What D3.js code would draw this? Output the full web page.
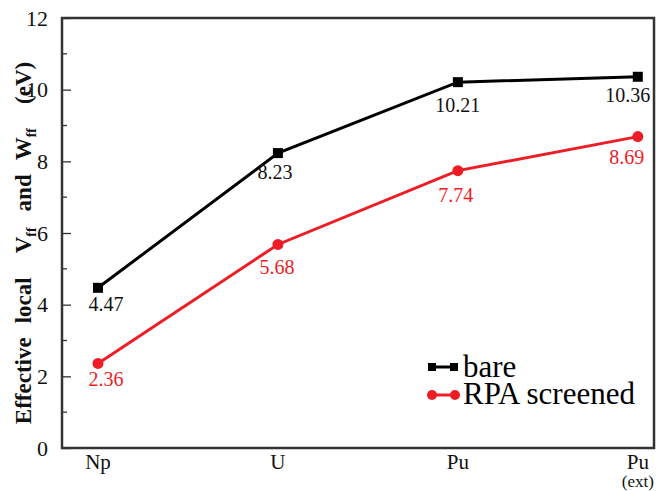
<!DOCTYPE html>
<html>
<head>
<meta charset="utf-8">
<script src="https://cdn.jsdelivr.net/npm/d3@7"></script>
<style>
body { margin: 0; background: #fff; }
</style>
</head>
<body>
<script>
// data
var categories = ["Np", "U", "Pu", "Pu"];
var subLabels = ["", "", "", "(ext)"];
var bare = [4.47, 8.23, 10.21, 10.36];
var rpa = [2.36, 5.68, 7.74, 8.69];
var yTicks = [0, 2, 4, 6, 8, 10, 12];

// label offsets (dx, dy) relative to point
var bareOff = [[8, 23], [-3, 26], [0, 30], [-10, 25]];
var rpaOff = [[8, 23], [-1, 30], [-2, 31], [-11, 27]];

var width = 665, height = 491;
var svg = d3.select("body").append("svg")
    .attr("width", width)
    .attr("height", height);

var x = d3.scaleLinear().domain([-0.2, 3.09]).range([62, 654]);
var y = d3.scaleLinear().domain([0, 12]).range([448, 18]);

// y ticks (inward)
var yAxis = d3.axisLeft(y).tickValues(yTicks).tickSize(-9).tickPadding(14)
    .tickFormat(d3.format("d"));
var gy = svg.append("g").attr("transform", "translate(62,0)").call(yAxis);
gy.select(".domain").remove();
gy.selectAll("line").attr("stroke", "#333").attr("stroke-width", 1.3);
gy.selectAll("text").attr("font-size", 22).attr("fill", "#111");

var minor = d3.range(1, 12, 2);
svg.append("g").selectAll("line").data(minor).enter().append("line")
    .attr("x1", 62).attr("x2", 67)
    .attr("y1", function (d) { return y(d); })
    .attr("y2", function (d) { return y(d); })
    .attr("stroke", "#333").attr("stroke-width", 1.3);

// frame
svg.append("rect")
    .attr("x", 62).attr("y", 18)
    .attr("width", 654 - 62).attr("height", 448 - 18)
    .attr("fill", "none").attr("stroke", "#333").attr("stroke-width", 2.5);

// x labels
svg.append("g").selectAll("text").data(categories).enter().append("text")
    .attr("x", function (d, i) { return x(i); })
    .attr("y", 469)
    .attr("text-anchor", "middle")
    .attr("font-size", 21)
    .attr("fill", "#111")
    .text(function (d) { return d; });
svg.append("g").selectAll("text").data(subLabels).enter().append("text")
    .attr("x", function (d, i) { return x(i); })
    .attr("y", 487)
    .attr("text-anchor", "middle")
    .attr("font-size", 17)
    .attr("fill", "#111")
    .text(function (d) { return d; });

// y title
var title = svg.append("text")
    .attr("transform", "translate(31,243) rotate(-90)")
    .attr("text-anchor", "middle")
    .attr("font-size", 23)
    .attr("font-weight", "bold")
    .attr("fill", "#111");
title.append("tspan").text("Effective");
title.append("tspan").attr("dx", 14).text("local");
title.append("tspan").attr("dx", 24).text("V");
title.append("tspan").attr("font-size", 14).attr("dy", 5).text("ff");
title.append("tspan").attr("dx", 16).attr("dy", -5).text("and");
title.append("tspan").attr("dx", 14).text("W");
title.append("tspan").attr("font-size", 14).attr("dy", 5).text("ff");
title.append("tspan").attr("dx", 24).attr("dy", -5).text("(eV)");

var line = d3.line()
    .x(function (d, i) { return x(i); })
    .y(function (d) { return y(d); });

// bare
svg.append("path").datum(bare)
    .attr("d", line).attr("fill", "none")
    .attr("stroke", "#000").attr("stroke-width", 3);
svg.append("g").selectAll("rect").data(bare).enter().append("rect")
    .attr("x", function (d, i) { return x(i) - 5; })
    .attr("y", function (d) { return y(d) - 5; })
    .attr("width", 10).attr("height", 10).attr("fill", "#000");

// rpa
svg.append("path").datum(rpa)
    .attr("d", line).attr("fill", "none")
    .attr("stroke", "#ee1c25").attr("stroke-width", 3);
svg.append("g").selectAll("circle").data(rpa).enter().append("circle")
    .attr("cx", function (d, i) { return x(i); })
    .attr("cy", function (d) { return y(d); })
    .attr("r", 5.5).attr("fill", "#ee1c25");

// value labels
svg.append("g").selectAll("text").data(bare).enter().append("text")
    .attr("x", function (d, i) { return x(i) + bareOff[i][0]; })
    .attr("y", function (d, i) { return y(d) + bareOff[i][1]; })
    .attr("text-anchor", "middle")
    .attr("font-size", 20).attr("fill", "#111")
    .text(function (d) { return d3.format(".2f")(d); });
svg.append("g").selectAll("text").data(rpa).enter().append("text")
    .attr("x", function (d, i) { return x(i) + rpaOff[i][0]; })
    .attr("y", function (d, i) { return y(d) + rpaOff[i][1]; })
    .attr("text-anchor", "middle")
    .attr("font-size", 20).attr("fill", "#ee1c25")
    .text(function (d) { return d3.format(".2f")(d); });

// legend
var leg = svg.append("g");
leg.append("line").attr("x1", 431).attr("x2", 455).attr("y1", 367).attr("y2", 367)
    .attr("stroke", "#000").attr("stroke-width", 3);
leg.append("rect").attr("x", 428).attr("y", 363).attr("width", 8).attr("height", 8).attr("fill", "#000");
leg.append("rect").attr("x", 450).attr("y", 363).attr("width", 8).attr("height", 8).attr("fill", "#000");
leg.append("text").attr("x", 463).attr("y", 377).attr("font-size", 31).attr("fill", "#000").text("bare");

leg.append("line").attr("x1", 432).attr("x2", 455).attr("y1", 395).attr("y2", 395)
    .attr("stroke", "#ee1c25").attr("stroke-width", 3);
leg.append("circle").attr("cx", 432).attr("cy", 395).attr("r", 5).attr("fill", "#ee1c25");
leg.append("circle").attr("cx", 455).attr("cy", 395).attr("r", 5).attr("fill", "#ee1c25");
leg.append("text").attr("x", 463).attr("y", 404).attr("font-size", 31).attr("fill", "#000").text("RPA screened");

// serif everywhere
svg.selectAll("text").style("font-family", "'Liberation Serif', serif");
</script>
</body>
</html>
